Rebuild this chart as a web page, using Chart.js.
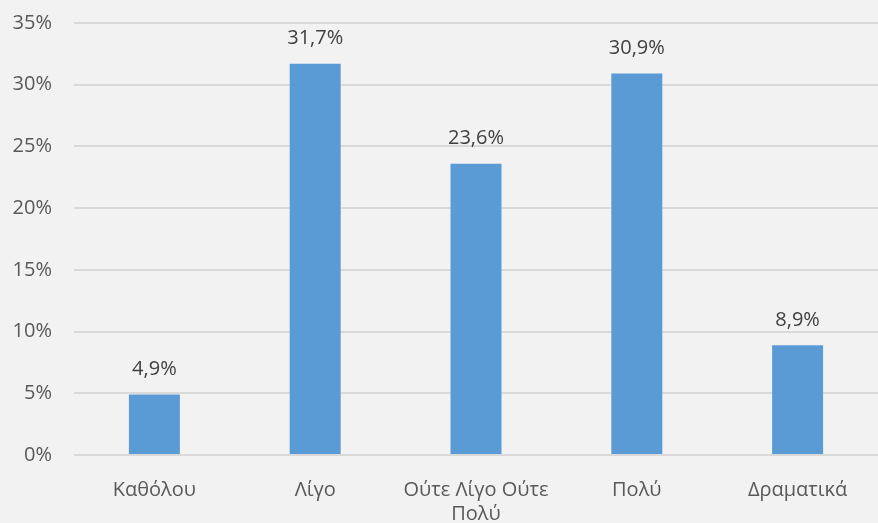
<!DOCTYPE html>
<html>
<head>
<meta charset="utf-8">
<script src="https://cdn.jsdelivr.net/npm/chart.js@4"></script>
<style>
    html, body { margin: 0; padding: 0; background: #f2f2f2; }
    #wrap { width: 878px; height: 523px; }
</style>
</head>
<body>
<div id="wrap"><canvas id="barChart"></canvas></div>
<script>
const categories = ['Καθόλου', 'Λίγο', ['Ούτε Λίγο Ούτε', 'Πολύ'], 'Πολύ', 'Δραματικά'];
const shares = [4.9, 31.7, 23.6, 30.9, 8.9];
const yTicks = [0, 5, 10, 15, 20, 25, 30, 35];

const fmt = v => v.toFixed(1).replace('.', ',') + '%';

// draws the value above every bar
const valueLabels = {
    id: 'valueLabels',
    afterDatasetsDraw(chart) {
        const ctx = chart.ctx;
        const meta = chart.getDatasetMeta(0);
        ctx.save();
        ctx.font = '20px "Open Sans"';
        ctx.fillStyle = '#404040';
        ctx.textAlign = 'center';
        ctx.textBaseline = 'middle';
        meta.data.forEach((bar, i) => {
            ctx.fillText(fmt(shares[i]), bar.x, bar.y - 25);
        });
        ctx.restore();
    }
};

const ctx = document.getElementById('barChart').getContext('2d');
new Chart(ctx, {
    type: 'bar',
    data: {
        labels: categories,
        datasets: [{
            data: shares,
            backgroundColor: '#5b9bd5',
            borderWidth: 0,
            barPercentage: 0.317,
            categoryPercentage: 1
        }]
    },
    options: {
        responsive: true,
        maintainAspectRatio: false,
        animation: false,
        layout: { padding: { top: 23, right: 0, bottom: 0, left: 0 } },
        plugins: {
            legend: { display: false },
            tooltip: { enabled: false }
        },
        scales: {
            x: {
                grid: { display: false },
                border: { display: false },
                ticks: {
                    color: '#595959',
                    font: { family: 'Open Sans', size: 20, lineHeight: 1.2 },
                    padding: 15,
                    maxRotation: 0,
                    autoSkip: false
                },
                afterFit: s => { s.height = 68; }
            },
            y: {
                min: 0,
                max: 35,
                afterBuildTicks: s => { s.ticks = yTicks.map(v => ({ value: v })); },
                grid: { color: '#d9d9d9', lineWidth: 2, drawTicks: false },
                border: { display: false },
                ticks: {
                    color: '#595959',
                    font: { family: 'Open Sans', size: 20 },
                    padding: 22,
                    callback: v => v + '%'
                },
                afterFit: s => {
                    s.width = 74;
                    s.paddingTop = 0;
                    s.paddingBottom = 0;
                }
            }
        }
    },
    plugins: [valueLabels]
});
</script>
</body>
</html>
